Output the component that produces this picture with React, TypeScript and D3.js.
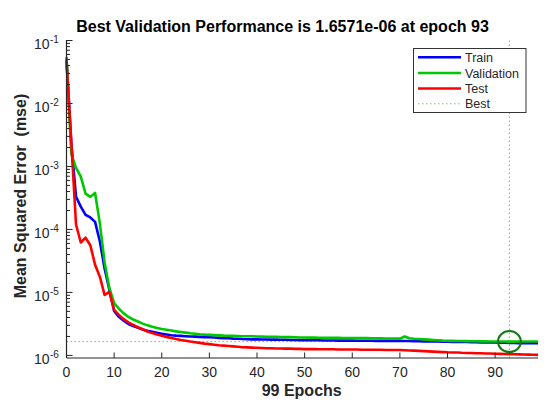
import React from "react";
import * as d3 from "d3";

const trainMse = [
  5.0e-2, 2.4e-3, 3.3e-4, 2.3e-4, 1.7e-4, 1.55e-4, 1.32e-4, 6.5e-5, 2.4e-5, 1.1e-5,
  5.1e-6, 4.1e-6, 3.55e-6, 3.16e-6, 2.92e-6, 2.74e-6, 2.59e-6, 2.47e-6, 2.37e-6, 2.28e-6,
  2.21e-6, 2.15e-6, 2.09e-6, 2.06e-6, 2.04e-6, 2.02e-6, 2.0e-6, 1.985e-6, 1.97e-6, 1.95e-6,
  1.94e-6, 1.92e-6, 1.9e-6, 1.88e-6, 1.87e-6, 1.85e-6, 1.84e-6, 1.82e-6, 1.81e-6, 1.8e-6,
  1.8e-6, 1.79e-6, 1.79e-6, 1.78e-6, 1.78e-6, 1.77e-6, 1.77e-6, 1.76e-6, 1.76e-6, 1.75e-6,
  1.75e-6, 1.74e-6, 1.74e-6, 1.74e-6, 1.73e-6, 1.73e-6, 1.73e-6, 1.72e-6, 1.72e-6, 1.72e-6,
  1.72e-6, 1.71e-6, 1.71e-6, 1.71e-6, 1.71e-6, 1.7e-6, 1.7e-6, 1.7e-6, 1.7e-6, 1.7e-6,
  1.7e-6, 1.69e-6, 1.69e-6, 1.68e-6, 1.68e-6, 1.67e-6, 1.67e-6, 1.66e-6, 1.66e-6, 1.65e-6,
  1.65e-6, 1.64e-6, 1.64e-6, 1.63e-6, 1.63e-6, 1.62e-6, 1.62e-6, 1.61e-6, 1.61e-6, 1.6e-6,
  1.6e-6, 1.59e-6, 1.59e-6, 1.58e-6, 1.58e-6, 1.57e-6, 1.57e-6, 1.565e-6, 1.56e-6, 1.56e-6,
];

const validationMse = [
  5.5e-2, 1.6e-3, 9.5e-4, 6.9e-4, 3.7e-4, 3.3e-4, 3.8e-4, 1.26e-4, 3.0e-5, 1.17e-5,
  6.8e-6, 5.5e-6, 4.65e-6, 4.08e-6, 3.72e-6, 3.45e-6, 3.2e-6, 3.0e-6, 2.85e-6, 2.73e-6,
  2.63e-6, 2.55e-6, 2.48e-6, 2.41e-6, 2.35e-6, 2.3e-6, 2.25e-6, 2.21e-6, 2.17e-6, 2.14e-6,
  2.12e-6, 2.1e-6, 2.08e-6, 2.06e-6, 2.05e-6, 2.04e-6, 2.03e-6, 2.02e-6, 2.02e-6, 2.01e-6,
  2.0e-6, 1.99e-6, 1.98e-6, 1.97e-6, 1.97e-6, 1.96e-6, 1.95e-6, 1.95e-6, 1.94e-6, 1.93e-6,
  1.93e-6, 1.92e-6, 1.92e-6, 1.91e-6, 1.91e-6, 1.9e-6, 1.9e-6, 1.9e-6, 1.89e-6, 1.89e-6,
  1.89e-6, 1.88e-6, 1.88e-6, 1.88e-6, 1.87e-6, 1.87e-6, 1.87e-6, 1.86e-6, 1.86e-6, 1.86e-6,
  1.85e-6, 2.0e-6, 1.87e-6, 1.84e-6, 1.82e-6, 1.8e-6, 1.78e-6, 1.76e-6, 1.74e-6, 1.72e-6,
  1.71e-6, 1.7e-6, 1.695e-6, 1.69e-6, 1.685e-6, 1.68e-6, 1.677e-6, 1.674e-6, 1.671e-6, 1.668e-6,
  1.665e-6, 1.662e-6, 1.659e-6, 1.6571e-6, 1.658e-6, 1.659e-6, 1.66e-6, 1.661e-6, 1.662e-6, 1.663e-6,
];

const testMse = [
  4.8e-2, 2.5e-3, 1.2e-4, 6.2e-5, 7.4e-5, 5.6e-5, 2.75e-5, 1.78e-5, 9.1e-6, 1.02e-5,
  5.3e-6, 4.4e-6, 3.76e-6, 3.36e-6, 3.05e-6, 2.8e-6, 2.6e-6, 2.4e-6, 2.26e-6, 2.15e-6,
  2.06e-6, 1.97e-6, 1.89e-6, 1.82e-6, 1.76e-6, 1.71e-6, 1.66e-6, 1.62e-6, 1.58e-6, 1.54e-6,
  1.51e-6, 1.48e-6, 1.45e-6, 1.43e-6, 1.41e-6, 1.39e-6, 1.37e-6, 1.35e-6, 1.34e-6, 1.33e-6,
  1.32e-6, 1.31e-6, 1.3e-6, 1.3e-6, 1.29e-6, 1.29e-6, 1.28e-6, 1.28e-6, 1.27e-6, 1.27e-6,
  1.26e-6, 1.26e-6, 1.26e-6, 1.25e-6, 1.25e-6, 1.25e-6, 1.25e-6, 1.24e-6, 1.24e-6, 1.24e-6,
  1.24e-6, 1.24e-6, 1.23e-6, 1.23e-6, 1.23e-6, 1.23e-6, 1.23e-6, 1.22e-6, 1.22e-6, 1.22e-6,
  1.22e-6, 1.21e-6, 1.2e-6, 1.19e-6, 1.18e-6, 1.17e-6, 1.16e-6, 1.15e-6, 1.14e-6, 1.13e-6,
  1.12e-6, 1.115e-6, 1.11e-6, 1.1e-6, 1.095e-6, 1.09e-6, 1.085e-6, 1.08e-6, 1.075e-6, 1.07e-6,
  1.065e-6, 1.06e-6, 1.055e-6, 1.05e-6, 1.045e-6, 1.04e-6, 1.035e-6, 1.03e-6, 1.025e-6, 1.02e-6,
];

const bestEpoch = 93;
const bestValue = 1.6571e-6;
const xTicks = [0, 10, 20, 30, 40, 50, 60, 70, 80, 90];
const yDecades = [-1, -2, -3, -4, -5, -6];
const legendLabels = ["Train", "Validation", "Test", "Best"];
const titleText = "Best Validation Performance is 1.6571e-06 at epoch 93";
const xLabelText = "99 Epochs";
const yLabelText = "Mean Squared Error  (mse)";

const W = 558;
const H = 414;
const left = 66.5;
const right = 538;
const top = 40.5;
const bottom = 358;
const font = "'Liberation Sans', Arial, Helvetica, sans-serif";
const axisColor = "#262626";

const seriesColors = ["#0000ff", "#00c800", "#ff0000"];

export default function App() {
  const x = d3.scaleLinear().domain([0, 99]).range([left, right]);
  const y = d3.scaleLog().domain([9.1e-7, 0.1]).range([bottom, top]);
  const line = d3
    .line<number>()
    .x((_, i) => x(i))
    .y((d) => y(d));

  const series = [trainMse, validationMse, testMse];

  const minorTicks: number[] = [];
  yDecades.forEach((e) => {
    for (let m = 2; m <= 9; m++) {
      const v = m * Math.pow(10, e);
      if (v >= 9.1e-7 && v <= 0.1) minorTicks.push(v);
    }
  });

  const bx = x(bestEpoch);
  const by = y(bestValue);

  const legX = 413.5;
  const legY = 48.5;
  const legW = 112.5;
  const legH = 64;
  const legRowY = [57.3, 73, 88.5, 103.8];

  return (
    <svg
      width={W}
      height={H}
      style={{ position: "absolute", left: 0, top: 0, background: "#fff" }}
      fontFamily={font}
    >
      <rect x={0} y={0} width={W} height={H} fill="#fff" />
      {/* best dotted lines */}
      <line x1={left} x2={right} y1={by} y2={by} stroke="#7cbf7c" strokeWidth={1} strokeDasharray="1.5,2.5" />
      <line x1={bx} x2={bx} y1={top} y2={bottom} stroke="#7cbf7c" strokeWidth={1} strokeDasharray="1.5,2.5" />

      {/* series */}
      {series.map((s, i) => (
        <path
          key={i}
          d={line(s) || ""}
          fill="none"
          stroke={seriesColors[i]}
          strokeWidth={2.6}
          strokeLinejoin="round"
        />
      ))}

      {/* best circle */}
      <ellipse cx={bx} cy={by} rx={11.5} ry={10.5} fill="none" stroke="#137a13" strokeWidth={2} />

      {/* axes */}
      <line x1={left} x2={left} y1={top - 0.5} y2={bottom} stroke={axisColor} strokeWidth={1.2} />
      <line x1={left} x2={right} y1={bottom} y2={bottom} stroke={axisColor} strokeWidth={1.2} />

      {/* x ticks */}
      {xTicks.map((t) => (
        <g key={"xt" + t}>
          <line x1={x(t)} x2={x(t)} y1={bottom} y2={bottom - 5.5} stroke={axisColor} strokeWidth={1} />
          <text x={x(t)} y={377} textAnchor="middle" fontSize={14} fill={axisColor}>
            {t}
          </text>
        </g>
      ))}

      {/* y ticks */}
      {yDecades.map((e) => {
        const ty = y(Math.pow(10, e));
        return (
          <g key={"yt" + e}>
            <line x1={left} x2={left + 6} y1={ty} y2={ty} stroke={axisColor} strokeWidth={1} />
            <text x={49.5} y={ty + 8.6} textAnchor="end" fontSize={14} fill={axisColor}>
              10
            </text>
            <text x={50} y={ty + 2.3} textAnchor="start" fontSize={10} fill={axisColor}>
              {String(e).replace("-", "\u2212").replace("\u2212", "-")}
            </text>
          </g>
        );
      })}
      {minorTicks.map((v, i) => (
        <line key={"mt" + i} x1={left} x2={left + 3.5} y1={y(v)} y2={y(v)} stroke={axisColor} strokeWidth={1} />
      ))}

      {/* title & labels */}
      <text x={282.5} y={32} textAnchor="middle" fontSize={16} fontWeight="bold" fill="#000">
        {titleText}
      </text>
      <text x={301.7} y={396} textAnchor="middle" fontSize={16} fontWeight="bold" fill={axisColor}>
        {xLabelText}
      </text>
      <text
        transform={`translate(26,196) rotate(-90)`}
        textAnchor="middle"
        fontSize={16}
        fontWeight="bold"
        fill={axisColor}
        style={{ whiteSpace: "pre" }}
      >
        {yLabelText}
      </text>

      {/* legend */}
      <rect x={legX} y={legY} width={legW} height={legH} fill="#fff" stroke="#333" strokeWidth={1} />
      {legendLabels.map((lab, i) => (
        <g key={lab}>
          {i < 3 ? (
            <line x1={418} x2={461} y1={legRowY[i]} y2={legRowY[i]} stroke={seriesColors[i]} strokeWidth={2.6} />
          ) : (
            <line x1={418} x2={461} y1={legRowY[i]} y2={legRowY[i]} stroke="#7cbf7c" strokeWidth={1} strokeDasharray="1.5,2.5" />
          )}
          <text x={465} y={legRowY[i] + 4.5} fontSize={12.5} fill={axisColor}>
            {lab}
          </text>
        </g>
      ))}
    </svg>
  );
}
